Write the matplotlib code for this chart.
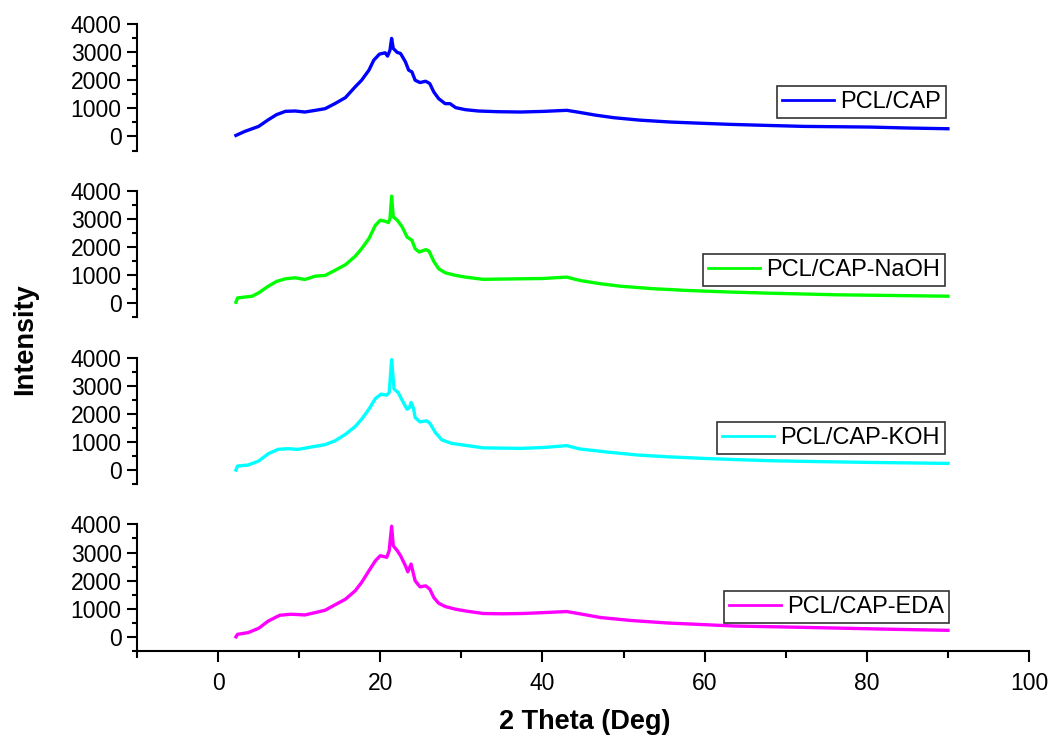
import matplotlib
matplotlib.use("Agg")
import matplotlib.pyplot as plt
from matplotlib.ticker import MultipleLocator

plt.rcParams['font.family'] = ['Liberation Sans', 'DejaVu Sans']

labels = ["PCL/CAP", "PCL/CAP-NaOH", "PCL/CAP-KOH", "PCL/CAP-EDA"]
colors = ["#0000FF", "#00FF00", "#00FFFF", "#FF00FF"]

x_cap = [2.2, 3.3, 5.0, 6.2, 7.2, 8.3, 9.5, 10.7, 12.0, 13.2, 14.4, 15.7, 16.9, 17.7, 18.6,
         19.2, 19.9, 20.6, 20.9, 21.2, 21.4, 21.6, 22.1, 22.5, 23.1, 23.5, 23.9, 24.3, 24.9,
         25.6, 26.1, 26.6, 27.2, 28.0, 28.6, 29.3, 30.5, 32.1, 34.5, 37.3, 40.0, 43.0, 44.3,
         46.5, 48.8, 52.0, 55.8, 59.5, 63.2, 68.0, 72.3, 76.5, 80.5, 85.0, 90.0]
y_cap = [36, 180, 357, 595, 774, 893, 905, 869, 929, 988, 1167, 1381, 1762, 2000, 2357,
         2714, 2929, 2976, 2857, 3071, 3488, 3131, 2988, 2952, 2655, 2357, 2298, 2000, 1917,
         1964, 1881, 1583, 1345, 1167, 1167, 1024, 952, 905, 880, 869, 890, 929, 869,
         760, 667, 580, 512, 470, 429, 390, 357, 345, 333, 300, 274]

x_naoh = [2.2, 2.4, 4.2, 5.0, 6.2, 7.2, 8.3, 9.5, 10.7, 12.0, 13.2, 14.4, 15.7, 16.9, 17.7,
          18.6, 19.4, 20.0, 20.6, 21.0, 21.2, 21.4, 21.6, 22.1, 22.7, 23.3, 23.9, 24.3, 24.8,
          25.6, 26.0, 26.6, 27.2, 28.0, 29.3, 30.5, 32.7, 35.0, 37.3, 40.0, 43.0, 44.6, 47.0,
          49.6, 53.5, 57.9, 63.0, 68.1, 72.0, 76.4, 82.0, 86.0, 90.0]
y_naoh = [36, 190, 250, 370, 607, 775, 870, 905, 846, 964, 989, 1168, 1370, 1668, 1943,
          2300, 2775, 2954, 2918, 2870, 3012, 3811, 3072, 2954, 2715, 2357, 2240, 1943, 1820,
          1907, 1860, 1490, 1228, 1085, 990, 930, 850, 860, 870, 880, 930, 811, 700,
          607, 520, 454, 400, 357, 330, 300, 280, 265, 250]

x_koh = [2.2, 2.4, 3.7, 5.0, 6.2, 7.4, 8.6, 9.9, 11.5, 13.2, 14.4, 15.7, 16.9, 17.7, 18.6,
         19.4, 20.1, 20.8, 21.1, 21.4, 21.7, 22.2, 22.8, 23.3, 23.6, 23.8, 24.1, 24.3, 24.9,
         25.7, 26.1, 26.8, 27.6, 28.8, 30.5, 32.7, 35.0, 37.3, 40.0, 43.0, 44.6, 48.0, 51.7,
         55.5, 59.9, 64.0, 68.1, 74.0, 80.5, 85.0, 90.0]
y_koh = [0, 143, 179, 321, 582, 736, 760, 736, 821, 904, 1036, 1271, 1546, 1807, 2164,
         2546, 2700, 2664, 2760, 3929, 2879, 2760, 2429, 2164, 2220, 2404, 2190, 1868, 1714,
         1750, 1670, 1332, 1071, 950, 879, 790, 780, 771, 800, 868, 750, 640, 536,
         470, 414, 370, 332, 300, 271, 255, 236]

x_eda = [2.2, 2.4, 3.7, 5.0, 6.2, 7.6, 9.0, 10.7, 12.0, 13.2, 14.4, 15.7, 16.9, 17.7, 18.6,
         19.4, 20.0, 20.8, 21.1, 21.4, 21.6, 22.1, 22.5, 23.1, 23.4, 23.8, 24.1, 24.3, 24.9,
         25.6, 26.1, 26.6, 27.2, 28.0, 29.3, 30.5, 32.7, 35.0, 37.5, 40.0, 43.0, 44.6, 47.2,
         51.0, 55.4, 59.5, 63.6, 70.0, 76.0, 83.0, 90.0]
y_eda = [0, 90, 150, 304, 565, 768, 804, 779, 864, 946, 1136, 1339, 1636, 1936, 2350,
         2707, 2886, 2829, 3064, 3936, 3243, 3064, 2886, 2529, 2314, 2590, 2230, 1993, 1779,
         1814, 1700, 1400, 1196, 1079, 982, 921, 830, 820, 830, 860, 900, 820, 686,
         580, 493, 440, 386, 350, 314, 270, 232]

series_x = [x_cap, x_naoh, x_koh, x_eda]
series_y = [y_cap, y_naoh, y_koh, y_eda]

W, H = 1053, 740
fig = plt.figure(figsize=(W / 100, H / 100), dpi=100)

left = 137 / W
width = (1029 - 137) / W
panel_h = 126.5 / H
legend_anchor = [(946, 86), (945, 254), (945, 422), (949, 591)]

for k in range(4):
    bottom_px = 150.5 + 166.8 * k
    ax = fig.add_axes([left, 1 - bottom_px / H, width, panel_h])
    ax.plot(series_x[k], series_y[k], color=colors[k], lw=2.4, label=labels[k])
    ax.set_xlim(-10, 100)
    ax.set_ylim(-500, 4000)
    ax.patch.set_visible(False)
    for s in ['top', 'right']:
        ax.spines[s].set_visible(False)
    ax.spines['left'].set_linewidth(1.5)
    ax.yaxis.set_major_locator(MultipleLocator(1000))
    ax.yaxis.set_minor_locator(MultipleLocator(500))
    ax.tick_params(axis='y', which='major', direction='out', length=7, width=1.5, labelsize=16.5, pad=4)
    ax.tick_params(axis='y', which='minor', direction='out', length=3.5, width=1.5)
    ax.xaxis.set_major_locator(MultipleLocator(20))
    ax.xaxis.set_minor_locator(MultipleLocator(10))
    if k < 3:
        ax.spines['bottom'].set_visible(False)
        ax.tick_params(axis='x', which='both', bottom=False, labelbottom=False)
    else:
        ax.spines['bottom'].set_linewidth(1.5)
        ax.tick_params(axis='x', which='major', direction='out', length=8, width=1.5, labelsize=16.5, pad=7)
        ax.tick_params(axis='x', which='minor', direction='out', length=5, width=1.5)
    rx, ty = legend_anchor[k]
    leg = ax.legend(loc='upper right', bbox_to_anchor=(rx / W, 1 - ty / H),
                    bbox_transform=fig.transFigure, borderaxespad=0, fontsize=17,
                    handlelength=2.2, handletextpad=0.25, borderpad=0.22,
                    fancybox=False, framealpha=1, edgecolor='#333333')
    leg.get_frame().set_linewidth(1.2)
    for line in leg.get_lines():
        line.set_linewidth(2.0)

fig.text(25 / W, 1 - 339 / H, "Intensity", rotation=90, ha='center', va='center',
         fontsize=19.5, fontweight='bold')
fig.text(585 / W, 1 - 722 / H, "2 Theta (Deg)", ha='center', va='center',
         fontsize=19.5, fontweight='bold')

fig.savefig("out.png", dpi=100)
